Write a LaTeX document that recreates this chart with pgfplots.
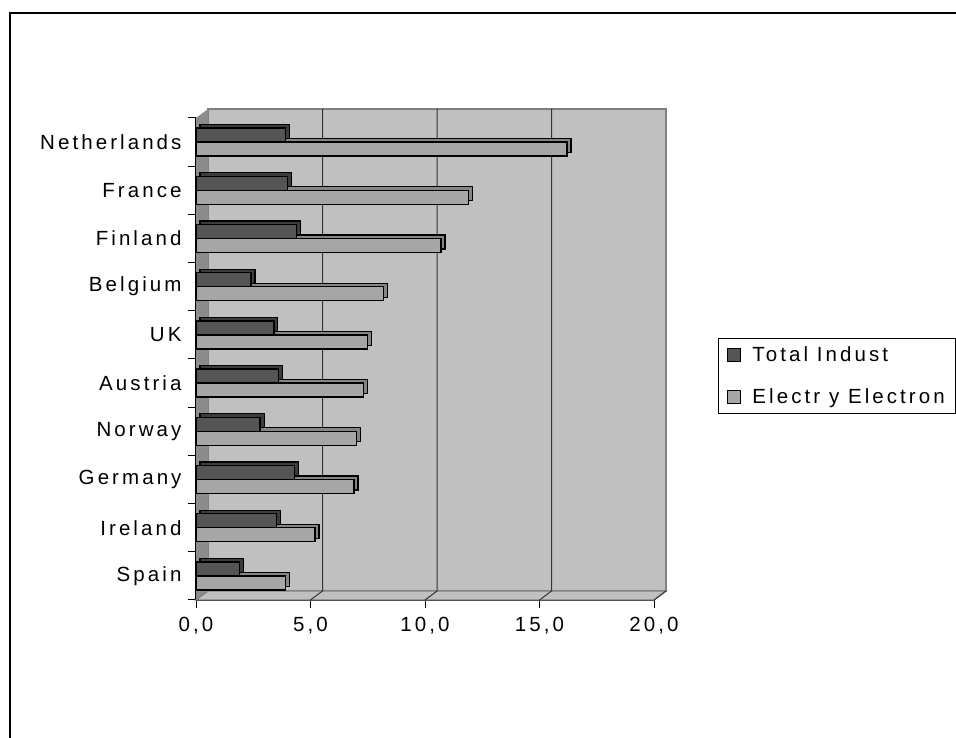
\documentclass[border=0pt]{standalone}
\usepackage{fontspec}
\setmainfont{Liberation Sans}[LetterSpace=15]
\usepackage{pgfplots}
\usepackage{pgfplotstable}
\pgfplotsset{compat=1.18}

\definecolor{wallback}{HTML}{C0C0C0}
\definecolor{wallside}{HTML}{8C8C8C}
\definecolor{walledge}{HTML}{808080}
\definecolor{totalind}{HTML}{555555}
\definecolor{totaldepth}{HTML}{3C3C3C}
\definecolor{electr}{HTML}{A6A6A6}
\definecolor{electrdepth}{HTML}{858585}

% idx: row position (0 = bottom)
\pgfplotstableread{
idx country     total electr
0   Spain        1.9   3.9
1   Ireland      3.5   5.2
2   Germany      4.3   6.9
3   Norway       2.8   7.0
4   Austria      3.6   7.3
5   UK           3.4   7.5
6   Belgium      2.4   8.2
7   Finland      4.4  10.7
8   France       4.0  11.9
9   Netherlands  3.9  16.2
}\shares

\newcommand{\labelfont}{\fontsize{20.5bp}{24bp}\selectfont}

\begin{document}
\begin{tikzpicture}[x=1bp,y=1bp]
\useasboundingbox (0,0) rectangle (956,738);
\fill[white] (0,0) rectangle (956,738);
\draw[line width=2bp] (10,-5) -- (10,725) -- (970,725);
\begin{axis}[
  at={(196bp,138bp)}, anchor=south west,
  scale only axis, width=458bp, height=482bp,
  xmin=0, xmax=20, ymin=-0.5, ymax=9.5,
  clip=false,
  axis x line*=bottom, axis y line*=left,
  axis line style={line width=1.6bp, black},
  tick align=outside,
  major tick length=8bp,
  tick style={line width=1bp, black},
  xtick={0,5,...,20},
  xticklabel style={font=\labelfont, yshift=-6bp,
    /pgf/number format/.cd, fixed, fixed zerofill, precision=1,
    use comma, assume math mode=true},
  ytick={-0.5,0.5,...,9.5},
  yticklabels={},
  extra y ticks={0,...,9},
  extra y tick labels={Spain,Ireland,Germany,Norway,Austria,UK,Belgium,Finland,France,Netherlands},
  extra y tick style={major tick length=0pt,
    yticklabel style={font=\labelfont, xshift=-11bp}},
  legend style={at={(1.1397,0.5436)}, anchor=north west,
    draw=black, line width=1bp, font=\labelfont,
    inner xsep=9bp, inner ysep=6bp, row sep=22bp,
    /tikz/every odd column/.append style={column sep=9bp}},
  legend cell align=left,
  legend image code/.code={\draw[#1, draw=black, line width=1bp] (0bp,-7bp) rectangle (13bp,6bp);},
  reverse legend,
]
% back wall, side wall and floor
\fill[wallback, draw=walledge, line width=1.2bp]
  ([shift={(12bp,9bp)}]axis cs:0,-0.5) rectangle ([shift={(12bp,9bp)}]axis cs:20,9.5);
\fill[wallside]
  (axis cs:0,-0.5) -- ([shift={(12bp,9bp)}]axis cs:0,-0.5)
  -- ([shift={(12bp,9bp)}]axis cs:0,9.5) -- (axis cs:0,9.5) -- cycle;
\fill[wallback, draw=walledge, line width=1.2bp]
  (axis cs:0,-0.5) -- (axis cs:20,-0.5)
  -- ([shift={(12bp,9bp)}]axis cs:20,-0.5) -- ([shift={(12bp,9bp)}]axis cs:0,-0.5) -- cycle;
% gridlines running across floor and back wall
\pgfplotsinvokeforeach{5,10,15}{
  \draw[black!80, line width=1bp] (axis cs:#1,-0.5)
    -- ([shift={(12bp,9bp)}]axis cs:#1,-0.5)
    -- ([shift={(12bp,9bp)}]axis cs:#1,9.5);
}
\draw[black!80, line width=1bp] (axis cs:20,-0.5) -- ([shift={(12bp,9bp)}]axis cs:20,-0.5);

% Electr y Electron: depth then front face
\addplot[xbar, bar width=14bp, bar shift=-7bp, fill=electrdepth, draw=black,
  line width=1.2bp, xshift=4bp, yshift=3.5bp, forget plot]
  table[x=electr, y=idx] {\shares};
\addplot[xbar, bar width=14bp, bar shift=-7bp, fill=electr, draw=black,
  line width=1.3bp]
  table[x=electr, y=idx] {\shares};
\addlegendentry{Electr y Electron}
% Total Indust: depth then front face
\addplot[xbar, bar width=14bp, bar shift=7bp, fill=totaldepth, draw=black,
  line width=1.2bp, xshift=4bp, yshift=3.5bp, forget plot]
  table[x=total, y=idx] {\shares};
\addplot[xbar, bar width=14bp, bar shift=7bp, fill=totalind, draw=black,
  line width=1.3bp]
  table[x=total, y=idx] {\shares};
\addlegendentry{Total Indust}
\end{axis}
\end{tikzpicture}
\end{document}
